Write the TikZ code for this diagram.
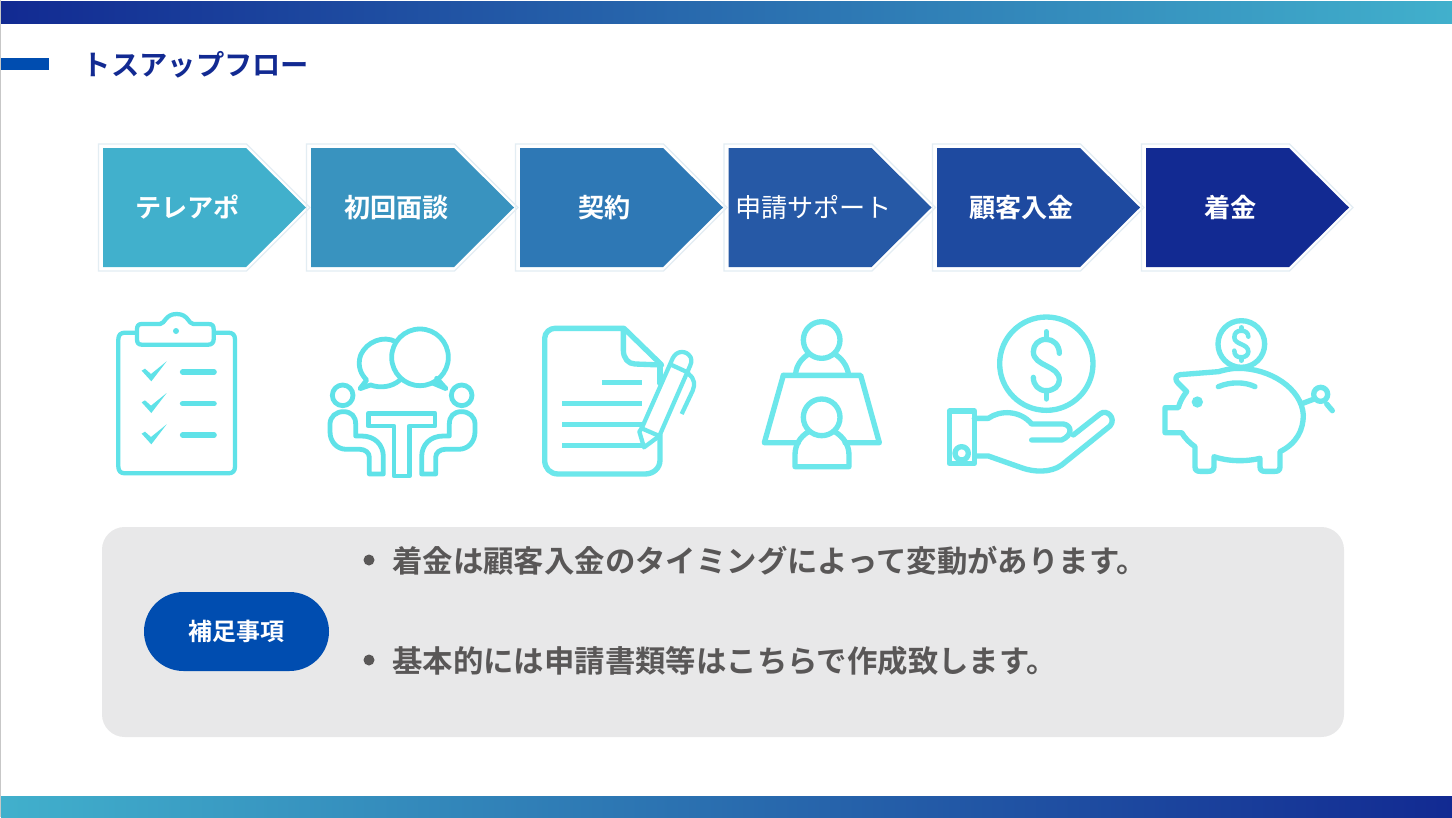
\documentclass[tikz,border=0pt]{standalone}
\usepackage{fontspec}
\setmainfont[BoldFont={Noto Sans CJK JP Bold}]{Noto Sans CJK JP}
\definecolor{cA}{HTML}{41B0CC}
\definecolor{cB}{HTML}{3993BF}
\definecolor{cC}{HTML}{2E78B5}
\definecolor{cD}{HTML}{2659A6}
\definecolor{cE}{HTML}{1E4AA0}
\definecolor{cF}{HTML}{122A92}
\definecolor{accent}{HTML}{004DB0}
\definecolor{panel}{HTML}{E8E8E9}
\definecolor{bodytext}{HTML}{595757}
\definecolor{edge}{HTML}{E3EDF3}
\definecolor{iconA}{HTML}{5FE2E8}
\definecolor{iconB}{HTML}{6CE7EB}
\tikzset{
  iconline/.style={draw=iconB,line width=4pt,line join=round,line cap=round},
  chevlabel/.style={text=white,inner sep=0pt,font=\fontsize{19.6pt}{24pt}\selectfont\bfseries},
  notetext/.style={text=bodytext,inner sep=0pt,anchor=west,font=\fontsize{22.8pt}{28pt}\selectfont\bfseries},
}
\newcommand{\chev}[2]{%
  \draw[edge,line width=0.9pt] (#1-4.5,144) -- (#1+143.5,144) -- (#1+207,207.5) -- (#1+143.5,271) -- (#1-4.5,271) -- cycle;
  \fill[#2] (#1,148) -- (#1+143,148) -- (#1+203,207.5) -- (#1+143,267) -- (#1,267) -- cycle;
}
\begin{document}
\begin{tikzpicture}[x=0.75pt,y=-0.75pt]
\useasboundingbox (0,0) rectangle (1452,817);
\fill[white] (0,0) rectangle (1452,817);
\fill[black!22] (0,0) rectangle (1,817);
\shade[left color=cF,right color=cA] (1,2) rectangle (1452,24);
\shade[left color=cA,right color=cF] (1,796) rectangle (1452,817);
\fill[accent] (1,58) rectangle (49,70);
\node[text=cF,inner sep=0pt,font=\fontsize{21.2pt}{26pt}\selectfont\bfseries] (title) at (196,65) {トスアップフロー};

\chev{103}{cA}
\chev{311}{cB}
\chev{520}{cC}
\chev{728.5}{cD}
\chev{937}{cE}
\chev{1146}{cF}
\node[chevlabel] (s1) at (187.5,207.5) {テレアポ};
\node[chevlabel] (s2) at (396.5,207.5) {初回面談};
\node[chevlabel] (s3) at (604.5,207.5) {契約};
\node[chevlabel,font=\fontsize{19.6pt}{24pt}\selectfont\mdseries] (s4) at (813.5,207.5) {申請サポート};
\node[chevlabel] (s5) at (1021.5,207.5) {顧客入金};
\node[chevlabel] (s6) at (1230.5,207.5) {着金};

% clipboard and meeting (coordinates: zoom px)
\begin{scope}[shift={(90,300)},x=0.25pt,y=-0.25pt,every path/.style={iconline,draw=iconA,line width=3.6pt}]
\draw[line width=3.2pt] (138,98) -- (105,98) .. controls (92,98) and (85,105) .. (85,118) -- (85,500) .. controls (85,513) and (92,520) .. (105,520) -- (415,520) .. controls (428,520) and (435,513) .. (435,500) -- (435,118) .. controls (435,105) and (428,98) .. (415,98) -- (375,98);
\draw[line width=3.2pt] (155,72) -- (210,72) .. controls (225,72) and (225,42) .. (260,42) .. controls (295,42) and (295,72) .. (310,72) -- (355,72) .. controls (368,72) and (371,78) .. (371,88) -- (371,118) .. controls (371,128) and (365,134) .. (355,134) -- (155,134) .. controls (145,134) and (141,128) .. (141,118) -- (141,88) .. controls (141,78) and (145,72) .. (155,72) -- cycle;
\fill[iconA,draw=none] (258,93) circle[radius=9];
\foreach \yy in {0,95,189}{
  \fill[iconA,draw=none] (155,\yy+212) -- (165,206+\yy) -- (183,222+\yy) -- (230,184+\yy) -- (184,244+\yy) -- cycle;
  \draw[line width=4.2pt] (278,216+\yy) -- (372,216+\yy);
}
% bubbles
\draw (917,125) .. controls (880,105) and (830,125) .. (812,165) .. controls (800,200) and (815,225) .. (830,240) -- (810,266) -- (842,255) .. controls (870,265) and (905,262) .. (930,240);
\draw (990,172) circle[radius=85];
\draw (1040,235) -- (1068,266) -- (1030,250);
\draw (758,286) circle[radius=31];
\draw (1115,286) circle[radius=31];
\draw (835,340) -- (1035,340) -- (1035,378) -- (958,378) -- (958,528) -- (912,528) -- (912,378) -- (835,378) -- cycle;
\draw (760,335) .. controls (785,335) and (797,350) .. (797,372) -- (797,408) -- (815,408) .. controls (855,408) and (880,435) .. (880,470) -- (880,522) -- (838,522) -- (838,472) .. controls (838,458) and (825,448) .. (810,448) -- (770,448) .. controls (740,448) and (720,425) .. (720,395) -- (720,372) .. controls (720,350) and (738,335) .. (760,335) -- cycle;
\draw (1115,335) .. controls (1090,335) and (1078,350) .. (1078,372) -- (1078,408) -- (1060,408) .. controls (1020,408) and (995,435) .. (995,470) -- (995,522) -- (1037,522) -- (1037,472) .. controls (1037,458) and (1050,448) .. (1065,448) -- (1105,448) .. controls (1135,448) and (1155,425) .. (1155,395) -- (1155,372) .. controls (1155,350) and (1137,335) .. (1115,335) -- cycle;
\end{scope}

% document and people
\begin{scope}[shift={(520,300)},x=0.25pt,y=-0.25pt,every path/.style={iconline}]
\draw (420,250) -- (420,192);
\draw (420,405) -- (420,480) .. controls (420,505) and (400,522) .. (375,522) -- (115,522) .. controls (90,522) and (74,505) .. (74,480) -- (74,115) .. controls (74,97) and (90,85) .. (105,85) -- (312,85) -- (425,195) -- (345,192) .. controls (325,192) and (310,175) .. (310,150) -- (310,88);
\draw[line cap=butt] (247,247) -- (365,247) (127,310) -- (365,310) (127,374) -- (365,374) (127,437) -- (365,437);
\draw[line width=3.2pt] (365,385) -- (458,175) .. controls (470,150) and (500,150) .. (512,172) .. controls (517,185) and (512,192) .. (510,198) -- (418,408) -- (372,442) -- (358,395) -- cycle;
\draw[line width=3.2pt] (365,385) -- (418,408);
\draw[line width=3.2pt] (455,195) -- (505,218);
\draw[line cap=butt,line width=3.2pt] (505,222) .. controls (525,235) and (525,255) .. (518,272) -- (485,342);
\draw (905,120) circle[radius=55];
\draw[line cap=butt] (827,220) .. controls (830,195) and (845,175) .. (866,162);
\draw[line cap=butt] (985,220) .. controls (980,195) and (965,175) .. (944,162);
\draw (790,226) -- (1022,226) -- (1078,428) -- (975,428);
\draw (835,428) -- (733,428) -- (790,226);
\draw (905,352) circle[radius=55];
\draw (866,395) .. controls (840,410) and (825,435) .. (825,465) -- (825,500) -- (987,500) -- (987,465) .. controls (987,435) and (970,410) .. (944,395);
\end{scope}

% hand and piggy
\begin{scope}[shift={(930,300)},x=0.25pt,y=-0.25pt,every path/.style={iconline}]
\draw (349,191) circle[radius=140];
\draw (388,160) .. controls (388,135) and (370,118) .. (349,118) .. controls (325,118) and (310,135) .. (310,155) .. controls (310,200) and (388,195) .. (388,240) .. controls (388,258) and (372,272) .. (349,272) .. controls (325,272) and (310,255) .. (310,232);
\draw (349,95) -- (349,118) (349,272) -- (349,297);
\draw (58,333) -- (133,333) -- (133,490) -- (58,490) -- cycle;
\draw (95,460) circle[radius=20];
\draw (133,355) -- (175,355) .. controls (210,330) and (270,330) .. (305,372) -- (400,372) .. controls (425,375) and (430,405) .. (395,420) -- (305,420);
\draw (430,405) -- (510,342) .. controls (530,325) and (560,355) .. (540,378) -- (395,495) .. controls (360,520) and (310,515) .. (280,505) -- (175,468) -- (135,468);
\draw (934,132) circle[radius=70];
\draw[line width=3.4pt] (955,110) .. controls (955,98) and (945,92) .. (934,92) .. controls (920,92) and (913,100) .. (913,112) .. controls (913,135) and (955,130) .. (955,155) .. controls (955,165) and (945,172) .. (934,172) .. controls (920,172) and (913,165) .. (913,152);
\draw[line width=3.4pt] (934,82) -- (934,92) (934,172) -- (934,182);
\draw (865,215) -- (750,224) .. controls (735,226) and (735,240) .. (743,248) -- (770,275) .. controls (758,290) and (750,305) .. (745,323) -- (705,323) -- (705,398) -- (755,398) .. controls (765,415) and (780,430) .. (795,440) -- (795,500) .. controls (795,510) and (800,514) .. (810,514) -- (835,514) .. controls (845,514) and (852,510) .. (852,500) -- (852,470) .. controls (895,485) and (950,485) .. (990,475) -- (990,500) .. controls (990,510) and (995,514) .. (1005,514) -- (1035,514) .. controls (1045,514) and (1050,510) .. (1050,500) -- (1050,455) .. controls (1100,430) and (1120,390) .. (1120,345) .. controls (1115,265) and (1020,205) .. (925,205) .. controls (900,205) and (885,210) .. (865,215) -- cycle;
\fill[iconB,draw=none] (802,306) circle[radius=17];
\draw (865,260) .. controls (900,245) and (945,245) .. (975,260);
\draw (1118,310) -- (1150,298);
\draw (1172,283) circle[radius=21];
\draw (1190,312) -- (1207,332);
\end{scope}

% panel
\fill[panel,rounded corners=17pt] (102,527) rectangle (1344,737);
\node[fill=accent,rounded corners=29.6pt,minimum width=138.75pt,minimum height=59.25pt,inner sep=0pt,text=white,font=\fontsize{18pt}{22pt}\selectfont\bfseries] (tag) at (236.5,631.5) {補足事項};
\fill[bodytext] (369,560) circle[radius=5.5];
\fill[bodytext] (369,660) circle[radius=5.5];
\node[notetext] (n1) at (392,560.5) {着金は顧客入金のタイミングによって変動があります。};
\node[notetext] (n2) at (392,660.5) {基本的には申請書類等はこちらで作成致します。};
\end{tikzpicture}
\end{document}
